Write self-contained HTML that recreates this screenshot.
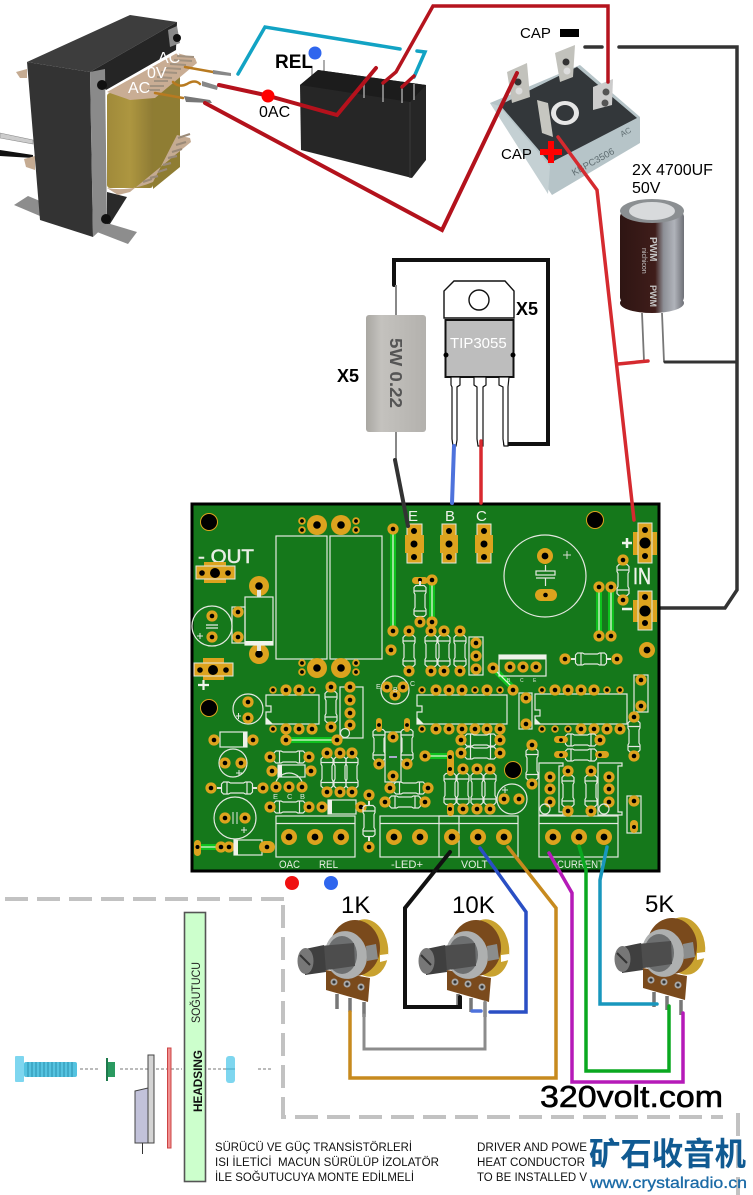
<!DOCTYPE html>
<html><head><meta charset="utf-8"><style>
html,body{margin:0;padding:0;background:#fff}
svg{display:block}
text{font-family:"Liberation Sans","Noto Sans CJK SC",sans-serif}
.w{fill:none;stroke-linejoin:miter;stroke-linecap:round}
.o{fill:none;stroke:#e4e8e0;stroke-width:1.2}
.t{fill:#eef2ea;font-size:15px}
</style></head><body>
<svg xmlns="http://www.w3.org/2000/svg" width="753" height="1195" viewBox="0 0 753 1195">
<defs>
<linearGradient id="gc" x1="0" x2="1" y1="0" y2="0"><stop offset="0" stop-color="#a08a3a"/><stop offset=".5" stop-color="#ad9640"/><stop offset="1" stop-color="#8e7b34"/></linearGradient>
<linearGradient id="gr" x1="0" x2="1" y1="0" y2="0"><stop offset="0" stop-color="#a9a7a2"/><stop offset=".25" stop-color="#c4c2be"/><stop offset="1" stop-color="#b3b1ad"/></linearGradient>
<linearGradient id="gcap" x1="0" x2="1" y1="0" y2="0"><stop offset="0" stop-color="#2e1513"/><stop offset=".55" stop-color="#3f1d1a"/><stop offset=".68" stop-color="#8d8f96"/><stop offset=".85" stop-color="#b0b3ba"/><stop offset="1" stop-color="#6e7076"/></linearGradient>
<g id="p"><circle r="5.6" fill="#dca31e"/><circle r="2.3" fill="#000"/></g>
<g id="s"><circle r="3.8" fill="#dca31e"/><circle r="1.9" fill="#000"/></g>
<g id="m"><circle r="8" fill="#dca31e"/><circle r="3.4" fill="#000"/></g>
<g id="b"><circle r="10" fill="#dca31e"/><circle r="3.8" fill="#000"/></g>
<g id="h"><circle r="8.5" fill="#000" stroke="#dca31e" stroke-width="1"/></g>
<g id="rv"><path class="o" d="M-4-15.5h8l2 2v5l-1 2v13l1 2v5l-2 2h-8l-2-2v-5l1-2v-13l-1-2v-5z"/><path class="o" d="M-6-10H6M-6 10H6"/><path d="M0-20v4M0 16v4" stroke="#e4e8e0" stroke-width="2"/></g>
<g id="rh"><path class="o" d="M-15.5-4v8l2 2h5l2-1h13l2 1h5l2-2v-8l-2-2h-5l-2 1h-13l-2-1h-5z"/><path class="o" d="M-10-6V6M10-6V6"/><path d="M-20 0h4M16 0h4" stroke="#e4e8e0" stroke-width="2"/></g>
<g id="term"><rect x="0" y="0" width="79" height="41" fill="none" stroke="#e4e8e0" stroke-width="1.2"/><path d="M0 7.5H79" stroke="#e4e8e0" stroke-width="1.2"/></g>
<g id="pot">
<ellipse cx="367" cy="948" rx="21" ry="29" fill="#c9a22f" transform="rotate(-10 367 948)"/>
<path d="M380 955l8-1v6l-8 2z" fill="#fff"/>
<ellipse cx="355" cy="948" rx="25" ry="28" fill="#7a4a1c"/>
<path d="M326 970l44 8-2 24-42-12z" fill="#7a4a1c"/>
<ellipse cx="346" cy="955" rx="21" ry="24" fill="#aeb0b0" transform="rotate(-10 346 955)"/>
<ellipse cx="342" cy="955" rx="15" ry="19" fill="#6d6f70"/>
<path d="M366 946l10-2 2 15-11 2z" fill="#8b8d8d"/>
<path d="M320 946l34-3 1 23-35 5z" fill="#4d4d4d"/>
<path d="M305 949l19-4 2 27-21 3z" fill="#3f3f3f"/>
<ellipse cx="305.500" cy="961" rx="8" ry="13" fill="#777"/>
<path d="M300 955l10 10" stroke="#333" stroke-width="2"/>
<circle cx="334" cy="982" r="3.5" fill="#aaa"/><circle cx="334" cy="982" r="1.6" fill="#333"/>
<circle cx="347" cy="984" r="3.500" fill="#aaa"/><circle cx="347" cy="984" r="1.600" fill="#333"/>
<circle cx="361" cy="987" r="3.5" fill="#aaa"/><circle cx="361" cy="987" r="1.6" fill="#333"/>
<path d="M337 994v15M350 998v14M364 1002v15" stroke="#777" stroke-width="3.5"/>
</g>
</defs>

<rect width="753" height="1195" fill="#fff"/>

<!-- transformer -->
<path d="M0 133l33 7v4L0 138z" fill="#ccc" stroke="#888" stroke-width=".6"/>
<path d="M0 150l33 5v3L0 156z" fill="#111"/>
<path d="M16 72l11-3v9H20z" fill="#c5ab92"/>
<path d="M24 159l11-3v14l-9-3z" fill="#c5ab92"/>
<path d="M14 205l14-9 12 5v15z" fill="#8d8d8d"/>
<path d="M107 223l30 9-9 12-31-12z" fill="#8d8d8d"/>
<path d="M107 192l20 5-17 27h-3z" fill="#2a2a2a"/>
<rect x="107" y="93" width="46" height="95" rx="3" fill="url(#gc)"/>
<path d="M153 95l27-18v90l-27 22z" fill="#8f7d33"/>
<path d="M177 135l13 3 1 4-61 50-12 3-11-7q22 4 46-6z" fill="#c5ab92"/>
<path d="M178 138l12-4M176 145l10-3M172 152l10-3M168 158l9-2M163 165l8-2M158 172l9-3M150 178l8-2M143 182l9-3" stroke="#9a8a78" stroke-width="2.200"/>
<path d="M27 62L130 15l47 7-87 50z" fill="#3d3d3d"/>
<path d="M90 72l87-50-1 28-70 40z" fill="#252525"/>
<path d="M107 92l70-39 18 5 2 5-42 35-25 2z" fill="#c9ad94"/>
<path d="M177 56l17 1M174 60l18 1M170 64l16 1M165 68l16 1M161 72l16 1M157 77l15 1M154 81l14 0M150 86l14 0M147 90l13 0" stroke="#a29280" stroke-width="2"/>
<path d="M27 62l63 10 3 165-53-17z" fill="#333"/>
<path d="M90 72l15-3 2 155-14 13z" fill="#8a8a8a"/>
<path d="M168 30l9-4 3 17-10 4z" fill="#8a8a8a"/>
<circle cx="102" cy="85" r="5" fill="#111"/><circle cx="177" cy="38" r="4" fill="#111"/><circle cx="106" cy="219" r="5" fill="#111"/>
<path d="M185 67l28 5M173 82q6 6 14 2q8-5 13 0M155 93l28 5" class="w" stroke="#b87a20" stroke-width="2.500"/>
<path d="M213 70l18 3v3l-18-2z" fill="#888"/><path d="M202 81l16 5-1 4-15-4z" fill="#888"/><path d="M184 96l26 4 2 3-26-1z" fill="#777"/>
<text x="158" y="63" font-size="16" fill="#fff">AC</text>
<text x="147" y="78" font-size="16" fill="#fff">0V</text>
<text x="128" y="93" font-size="16" fill="#fff">AC</text>

<!-- relay -->
<path d="M312 68v16M324 60v26" stroke="#999" stroke-width="1.600"/>
<path d="M300 85l18-15 108 15v75l-14 18-111-28z" fill="#262626"/>
<path d="M300 85l110 17 16-17-108-15z" fill="#1c1c1c"/>
<path d="M410 102v76" stroke="#3a3a3a" stroke-width="1"/>
<path d="M364 80v18M383 82v20M402 85v18M414 84v16" stroke="#999" stroke-width="1.600"/>
<text x="275" y="68" font-size="19" font-weight="bold">REL</text>
<text x="259" y="117" font-size="16">0AC</text>

<!-- bridge -->
<path d="M490 103l90-38 60 52v26l-88 52z" fill="#b6c4c8"/>
<path d="M490 103l9 3 51 60-2 28z" fill="#c4d0d3"/>
<path d="M500 105l77-38 60 51-87 45z" fill="#33373a"/>
<path d="M507 72l20-9 3 34-18 6z" fill="#c2c2bc"/><circle cx="518" cy="82" r="3.500" fill="#333"/><circle cx="519" cy="91" r="3.500" fill="#ddd"/>
<path d="M555 53l20-8-2 32-13 5z" fill="#c2c2bc"/><circle cx="566" cy="62" r="3.500" fill="#333"/><circle cx="567" cy="71" r="3.500" fill="#ddd"/>
<ellipse cx="565" cy="113" rx="14" ry="12" fill="#e6e6e6"/><ellipse cx="565" cy="113" rx="9" ry="8" fill="#33373a"/>
<path d="M593 87l20-8-1 26-19 5z" fill="#ccc"/><circle cx="606" cy="92" r="3.500" fill="#555"/><circle cx="605" cy="103" r="3.500" fill="#555"/>
<path d="M537 100l11 3 5 34-11-4z" fill="#c6c6c0"/>
<text transform="translate(574 176) rotate(-29)" font-size="9.500" fill="#5e6c70">KBPC3506</text>
<text transform="translate(622 137) rotate(-28)" font-size="8" fill="#5e6c70">AC</text>

<!-- capacitor -->
<rect x="620" y="211" width="64" height="92" rx="6" fill="url(#gcap)"/>
<ellipse cx="652" cy="303" rx="32" ry="10" fill="url(#gcap)"/>
<ellipse cx="652" cy="211" rx="32" ry="12" fill="#8b8f92"/>
<ellipse cx="652" cy="211" rx="23" ry="9" fill="#d8dadc"/>
<text transform="translate(650 237) rotate(90)" font-size="10" font-weight="bold" fill="#c6c6c6">PWM</text>
<text transform="translate(642 248) rotate(90)" font-size="7" fill="#c6c6c6">nichicon</text>
<text transform="translate(650 285) rotate(90)" font-size="9" font-weight="bold" fill="#c6c6c6">PWM</text>
<path d="M642 313l2 48M662 313l2 49" stroke="#777" stroke-width="1.800" fill="none"/>

<!-- top wires -->
<path class="w" d="M238 74L265 27 400 49M417 51l8 1-11 25" stroke="#12a3c4" stroke-width="3.500"/>
<path class="w" d="M219 85l46 10 72 20 39-47" stroke="#b5111c" stroke-width="4"/>
<path class="w" d="M205 103l237 127 75-157" stroke="#b3121c" stroke-width="4"/>
<path class="w" d="M383 83l13-11L433 6h175v76" stroke="#b5141e" stroke-width="3.500"/>
<path class="w" d="M402 87l12-11" stroke="#b5111c" stroke-width="3.500"/>
<path class="w" d="M585 47h17" stroke="#333" stroke-width="3.500"/>
<path class="w" d="M619 47h118v543l-12 18h-65" stroke="#333" stroke-width="3.500"/>
<path class="w" d="M665 362h72" stroke="#333" stroke-width="3"/>
<circle cx="268" cy="96" r="6.500" fill="#f00"/>
<circle cx="315" cy="53" r="6.500" fill="#2f66ee"/>
<text x="520" y="38" font-size="15">CAP</text>
<rect x="560" y="29" width="19" height="8" fill="#000"/>
<text x="501" y="159" font-size="15">CAP</text>
<text x="632" y="175" font-size="16">2X 4700UF</text>
<text x="632" y="193" font-size="16">50V</text>

<!-- resistor + transistor -->
<path d="M394 285v-25h154v184h-43" class="w" stroke="#111" stroke-width="4"/>
<path d="M396 285v30M396 432v28" stroke="#888" stroke-width="2"/>
<rect x="366" y="315" width="60" height="117" rx="3" fill="url(#gr)"/>
<text transform="translate(390 338) rotate(90)" font-size="17.500" font-weight="bold" fill="#555" textLength="70" lengthAdjust="spacingAndGlyphs">5W 0.22</text>
<text x="337" y="382" font-size="18" font-weight="bold">X5</text>
<text x="516" y="315" font-size="18" font-weight="bold">X5</text>
<path d="M444 318v-27l10-10h51l9 10v27z" fill="#fff" stroke="#111" stroke-width="1.400"/>
<circle cx="479" cy="300" r="10" fill="#fff" stroke="#111" stroke-width="1.400"/>
<rect x="445.500" y="320" width="68" height="57" fill="#bdbdbd" stroke="#111" stroke-width="2"/>
<circle cx="446" cy="355" r="2.500" fill="#000"/><circle cx="513" cy="355" r="2.500" fill="#000"/>
<text x="450" y="348" font-size="15" fill="#fff">TIP3055</text>
<path d="M451 377v8l1 2v52l1 7h3l1-6v-53l3-2v-8zM474 377v8l3 2v52l1 7h5v-59l3-2v-8zM499 377v8l4 2v52l1 7h4v-59l1-10z" fill="#fff" stroke="#111" stroke-width="1.200"/>

<!-- PCB -->
<rect x="192" y="504" width="467" height="367" fill="#15781b" stroke="#000" stroke-width="3"/>
<use href="#h" x="209" y="522"/><use href="#h" x="595" y="520"/><use href="#h" x="209" y="708"/><use href="#h" x="513" y="770"/>
<rect x="276" y="536" width="51" height="123" class="o"/><rect x="330" y="536" width="52" height="123" class="o"/>
<use href="#s" x="302" y="521"/><use href="#s" x="302" y="530"/><use href="#b" x="317" y="525"/><use href="#b" x="341" y="525"/><use href="#s" x="356" y="521"/><use href="#s" x="356" y="530"/>
<use href="#s" x="302" y="663"/><use href="#s" x="302" y="672"/><use href="#b" x="317" y="668"/><use href="#b" x="341" y="668"/><use href="#s" x="356" y="663"/><use href="#s" x="356" y="672"/>
<!-- green links -->
<path d="M393 529v102M432 580v42M599 587v49M611 587v49M286 740h51M220 847h-23M493 668l20 20M425 756h25" stroke="#0fc21e" stroke-width="6" fill="none"/>
<path d="M393 529v102M432 580v42M599 587v49M611 587v49M286 740h51M220 847h-23M493 668l20 20M425 756h25" stroke="#dff5d5" stroke-width="1.300" fill="none"/>
<use href="#p" x="393" y="529"/><use href="#p" x="393" y="631"/><use href="#p" x="391" y="650"/>
<!-- E B C -->
<path d="M407 524h15v39h-15zM442 524h14v39h-14zM477 524h14v39h-14z" fill="#dca31e" stroke="#e4e8e0" stroke-width="1"/>
<path d="M405 535h19v18h-19zM440 535h18v18h-18zM475 535h18v18h-18z" fill="#dca31e"/>
<g fill="#000"><circle cx="414" cy="531" r="3"/><circle cx="414" cy="544" r="3.500"/><circle cx="414" cy="557" r="3"/><circle cx="449" cy="531" r="3"/><circle cx="449" cy="544" r="3.500"/><circle cx="449" cy="557" r="3"/><circle cx="484" cy="531" r="3"/><circle cx="484" cy="544" r="3.500"/><circle cx="484" cy="557" r="3"/></g>
<text x="408" y="521" class="t">E</text><text x="445" y="521" class="t">B</text><text x="476" y="521" class="t">C</text>
<!-- OUT -->
<text x="198" y="563" font-size="19" fill="#e8ede4" stroke="#e8ede4" stroke-width=".5" textLength="56" lengthAdjust="spacingAndGlyphs">- OUT</text>
<path d="M196 566h8v-4h22v4h9v13h-9v4h-22v-4h-8z" fill="#dca31e"/><rect x="196" y="566" width="39" height="13" fill="none" stroke="#e4e8e0"/>
<g fill="#000"><circle cx="202" cy="573" r="2.800"/><circle cx="215" cy="573" r="5"/><circle cx="228" cy="573" r="2.800"/></g>
<path d="M194 663h9v-5h21v5h9v13h-9v4h-21v-4h-9z" fill="#dca31e"/><rect x="194" y="663" width="39" height="13" fill="none" stroke="#e4e8e0"/>
<g fill="#000"><circle cx="200" cy="670" r="2.800"/><circle cx="213" cy="670" r="5"/><circle cx="226" cy="670" r="2.800"/></g>
<path d="M198 685h11M203.500 680v10" stroke="#f0f4ec" stroke-width="2.200"/>
<use href="#b" x="259" y="586"/><use href="#b" x="259" y="654"/>
<path d="M259 590v7M259 645v6" stroke="#e4e8e0" stroke-width="4"/>
<rect x="245" y="597" width="28" height="48" class="o"/><rect x="245" y="641" width="28" height="4.500" fill="#f0f4ec"/>
<circle cx="212" cy="626" r="20" class="o"/><use href="#p" x="212" y="616"/><use href="#p" x="212" y="637"/>
<path d="M206 625h12M206 628h12" stroke="#e4e8e0" stroke-width="1.200"/><path d="M197 636h6M200 633v6" stroke="#e4e8e0"/>
<rect x="232" y="607" width="13" height="36" class="o"/><use href="#p" x="238" y="612"/><use href="#p" x="238" y="637"/>
<!-- res row -->
<rect x="412" y="577" width="16" height="7" rx="3.500" fill="#dca31e"/><circle cx="420" cy="580" r="2" fill="#000"/>
<use href="#rv" x="420" y="601"/><use href="#p" x="420" y="622"/>
<use href="#rv" x="409" y="651"/><use href="#p" x="409" y="631"/><use href="#p" x="409" y="671"/>
<use href="#rv" x="431" y="651"/><use href="#p" x="431" y="631"/><use href="#p" x="431" y="671"/>
<use href="#rv" x="444" y="651"/><use href="#p" x="444" y="631"/><use href="#p" x="444" y="671"/>
<use href="#rv" x="460" y="651"/><use href="#p" x="460" y="631"/><use href="#p" x="460" y="671"/>
<use href="#p" x="432" y="580"/><use href="#p" x="432" y="622"/>
<rect x="469" y="637" width="14" height="38" class="o"/><use href="#p" x="476" y="643"/><use href="#p" x="476" y="656"/><use href="#p" x="476" y="669"/>
<!-- big cap -->
<circle cx="545" cy="576" r="41" class="o"/><use href="#m" x="545" y="556"/>
<rect x="535" y="589" width="22" height="12" rx="6" fill="#dca31e"/><circle cx="545.500" cy="595" r="2.300" fill="#000"/>
<rect x="536" y="571" width="19" height="4" class="o"/><path d="M536 578h19M545.500 565v6M545.500 578v8" stroke="#e4e8e0" stroke-width="1.200"/>
<path d="M563 555h8M567 551v8" stroke="#d8ddd2" stroke-width="1"/>
<!-- IN -->
<path d="M638 523h14v9h5v23h-5v8h-14v-8h-5v-23h5z" fill="#dca31e"/><rect x="638" y="523" width="14" height="40" fill="none" stroke="#e4e8e0"/>
<path d="M638 591h14v9h5v22h-5v8h-14v-8h-5v-22h5z" fill="#dca31e"/><rect x="638" y="591" width="14" height="39" fill="none" stroke="#e4e8e0"/>
<g fill="#000"><circle cx="645" cy="530" r="3"/><circle cx="645" cy="543" r="5.500"/><circle cx="645" cy="556" r="3"/><circle cx="645" cy="597" r="3"/><circle cx="645" cy="611" r="5.500"/><circle cx="645" cy="623" r="3"/></g>
<path d="M622 543h10M627 538v10M622 609h10" stroke="#f0f4ec" stroke-width="2.500"/>
<text x="633" y="584" font-size="23" fill="#f0f4ec" stroke="#f0f4ec" stroke-width=".5" textLength="18" lengthAdjust="spacingAndGlyphs">IN</text>
<use href="#rv" x="623" y="580"/><use href="#p" x="623" y="560"/><use href="#p" x="623" y="600"/>
<use href="#p" x="599" y="587"/><use href="#p" x="599" y="636"/><use href="#p" x="611" y="587"/><use href="#p" x="611" y="636"/>
<use href="#m" x="647" y="650"/>
<use href="#rh" x="591" y="659"/><use href="#p" x="565" y="659"/><use href="#p" x="617" y="659"/>
<rect x="499" y="655" width="47" height="21" class="o"/><rect x="499" y="655" width="47" height="4.500" fill="#eef2ea"/>
<use href="#p" x="510" y="667"/><use href="#p" x="523" y="667"/><use href="#p" x="536" y="667"/>
<use href="#p" x="493" y="668"/><use href="#s" x="513" y="690"/>
<text x="507" y="682" font-size="5" fill="#e4e8e0">B</text><text x="520" y="682" font-size="5" fill="#e4e8e0">C</text><text x="533" y="682" font-size="5" fill="#e4e8e0">E</text>
<rect x="634" y="675" width="14" height="37" class="o"/><use href="#p" x="641" y="680"/><use href="#p" x="641" y="706"/>
<!-- IC left -->
<path d="M266 695h53v29h-53v-12h5v-6h-5z" class="o"/><path d="M266 717l7 7h-7z" fill="#eef2ea"/>
<use href="#s" x="273" y="690"/><use href="#p" x="286" y="690"/><use href="#p" x="299" y="690"/><use href="#s" x="312" y="690"/>
<use href="#s" x="273" y="729"/><use href="#p" x="286" y="729"/><use href="#p" x="299" y="729"/><use href="#p" x="312" y="729"/>
<circle cx="248" cy="709" r="15" class="o"/><use href="#p" x="248" y="702"/><use href="#p" x="248" y="718"/><path d="M236 716h5M238.500 713v6" stroke="#e4e8e0"/>
<use href="#rv" x="331" y="707"/><use href="#p" x="331" y="687"/><use href="#p" x="331" y="727"/>
<rect x="340" y="687" width="23" height="51" class="o"/><use href="#p" x="350" y="687"/><use href="#p" x="350" y="700"/><use href="#p" x="350" y="713"/><use href="#p" x="350" y="725"/><circle cx="345" cy="733" r="4.500" class="o"/>
<circle cx="395" cy="690" r="14" class="o"/><use href="#p" x="387" y="687"/><use href="#p" x="395" y="695"/><use href="#p" x="403" y="687"/>
<text x="376" y="689" font-size="7" fill="#e4e8e0">E</text><text x="410" y="686" font-size="7" fill="#e4e8e0">C</text><text x="393" y="692" font-size="7" fill="#e4e8e0">B</text>
<rect x="220" y="732" width="27" height="15" class="o"/><rect x="243" y="732" width="4" height="15" fill="#eef2ea"/>
<use href="#p" x="214" y="740"/><use href="#p" x="253" y="740"/><use href="#p" x="286" y="740"/><use href="#p" x="337" y="740"/>
<circle cx="233" cy="763" r="14" class="o"/><use href="#p" x="225" y="763"/><use href="#p" x="241" y="763"/><path d="M236 773h6M239 770v6" stroke="#e4e8e0"/>
<use href="#rh" x="289.500" y="757"/><use href="#p" x="270" y="757"/><use href="#p" x="309" y="757"/>
<rect x="278" y="765" width="27" height="12" class="o"/><rect x="278" y="765" width="4" height="12" fill="#eef2ea"/><use href="#p" x="272" y="771"/><use href="#p" x="311" y="771"/>
<path d="M275 787a14 14 0 0 1 28 0" class="o"/><use href="#p" x="276" y="787"/><use href="#p" x="289" y="787"/><use href="#p" x="302" y="787"/>
<text x="273" y="799" font-size="7.500" fill="#e4e8e0">E</text><text x="287" y="799" font-size="7.500" fill="#e4e8e0">C</text><text x="300" y="799" font-size="7.500" fill="#e4e8e0">B</text>
<use href="#rh" x="237" y="788"/><use href="#p" x="211" y="788"/><use href="#p" x="263" y="788"/>
<use href="#rv" x="327" y="772.500"/><use href="#rv" x="340" y="772.500"/><use href="#rv" x="352" y="772.500"/>
<use href="#p" x="327" y="753"/><use href="#p" x="340" y="753"/><use href="#p" x="352" y="753"/><use href="#p" x="327" y="792"/><use href="#p" x="340" y="792"/><use href="#p" x="352" y="792"/>
<circle cx="235" cy="818" r="21" class="o"/><use href="#p" x="225" y="818"/><use href="#p" x="245" y="818"/><path d="M233 812v12M237 812v12" stroke="#e4e8e0"/><path d="M241 830h6M244 827v6" stroke="#e4e8e0"/>
<use href="#rh" x="289.500" y="807"/><use href="#p" x="270" y="807"/><use href="#p" x="309" y="807"/>
<rect x="328" y="800" width="28" height="14" class="o"/><rect x="328" y="800" width="4" height="14" fill="#eef2ea"/><use href="#p" x="322" y="807"/><use href="#p" x="361" y="807"/>
<use href="#rv" x="369" y="821"/><use href="#p" x="369" y="795"/><use href="#p" x="369" y="847"/>
<!-- bottom left -->
<rect x="194" y="840" width="7" height="16" rx="3.500" fill="#dca31e"/><circle cx="197.500" cy="847" r="2" fill="#000"/>
<use href="#p" x="221" y="847"/><use href="#p" x="229" y="847"/>
<rect x="234" y="840" width="28" height="15" class="o"/><rect x="234" y="840" width="4" height="15" fill="#eef2ea"/>
<rect x="259" y="841" width="16" height="12" rx="6" fill="#dca31e"/><circle cx="267" cy="847" r="2.300" fill="#000"/>
<!-- terminals -->
<use href="#term" x="276" y="816"/><use href="#m" x="289" y="837"/><use href="#m" x="315" y="837"/><use href="#m" x="341" y="837"/>
<use href="#term" x="380" y="816"/><use href="#m" x="394" y="837"/><use href="#m" x="420" y="837"/>
<use href="#term" x="439" y="816"/><use href="#m" x="452" y="837"/><use href="#m" x="478" y="837"/><use href="#m" x="504" y="837"/>
<use href="#term" x="539" y="816"/><use href="#m" x="553" y="837"/><use href="#m" x="579" y="837"/><use href="#m" x="604" y="837"/>
<text x="279" y="868" font-size="11" fill="#e8ede4" textLength="21" lengthAdjust="spacingAndGlyphs">OAC</text>
<text x="319" y="868" font-size="11" fill="#e8ede4" textLength="19" lengthAdjust="spacingAndGlyphs">REL</text>
<text x="391" y="868" font-size="11" fill="#e8ede4" textLength="32" lengthAdjust="spacingAndGlyphs">-LED+</text>
<text x="461" y="868" font-size="11" fill="#e8ede4" textLength="27" lengthAdjust="spacingAndGlyphs">VOLT</text>
<text x="557" y="868" font-size="11" fill="#e8ede4" textLength="47" lengthAdjust="spacingAndGlyphs">CURRENT</text>
<!-- mid -->
<rect x="385" y="732" width="16" height="50" class="o"/><use href="#p" x="393" y="737"/><use href="#p" x="393" y="776"/><rect x="389" y="756" width="8" height="2" fill="#aac"/>
<use href="#rv" x="379" y="745"/><use href="#rv" x="407" y="745"/>
<rect x="376" y="718" width="6" height="14" rx="3" fill="#dca31e"/><rect x="404" y="718" width="6" height="14" rx="3" fill="#dca31e"/><circle cx="379" cy="725" r="1.900" fill="#000"/><circle cx="407" cy="725" r="1.900" fill="#000"/>
<use href="#p" x="379" y="764"/><use href="#p" x="407" y="764"/>
<use href="#p" x="425" y="756"/>
<use href="#rh" x="409.500" y="788"/><use href="#p" x="390" y="788"/><use href="#p" x="428" y="788"/>
<use href="#rh" x="405" y="802"/><use href="#p" x="385" y="802"/><use href="#p" x="425" y="802"/>
<!-- IC 2 -->
<path d="M417 695h90v29h-90v-12h5v-6h-5z" class="o"/><path d="M417 717l7 7h-7z" fill="#eef2ea"/>
<use href="#s" x="422" y="690"/><use href="#p" x="436" y="690"/><use href="#p" x="449" y="690"/><use href="#p" x="462" y="690"/><use href="#s" x="475" y="690"/><use href="#p" x="487" y="690"/><use href="#s" x="500" y="690"/><use href="#p" x="513" y="690"/>
<use href="#s" x="422" y="729"/><use href="#p" x="436" y="729"/><use href="#p" x="449" y="729"/><use href="#p" x="462" y="729"/><use href="#p" x="475" y="729"/><use href="#p" x="487" y="729"/><use href="#p" x="500" y="729"/>
<rect x="519" y="693" width="13" height="36" class="o"/><use href="#p" x="526" y="698"/><use href="#p" x="526" y="724"/>
<!-- IC 3 -->
<path d="M535 694h92v30h-92v-8h5v-6h-5z" class="o"/><path d="M535 718l6 6h-6z" fill="#eef2ea"/>
<use href="#s" x="542" y="690"/><use href="#p" x="555" y="690"/><use href="#p" x="568" y="690"/><use href="#p" x="581" y="690"/><use href="#p" x="594" y="690"/><use href="#s" x="607" y="690"/><use href="#s" x="620" y="690"/>
<use href="#s" x="542" y="729"/><use href="#s" x="555" y="729"/><use href="#s" x="568" y="729"/><use href="#p" x="581" y="729"/><use href="#p" x="594" y="729"/><use href="#p" x="607" y="729"/><use href="#p" x="620" y="729"/>
<use href="#rv" x="634" y="736.500"/><use href="#p" x="634" y="717"/><use href="#p" x="634" y="756"/>
<use href="#rh" x="480.500" y="740"/><use href="#p" x="461" y="740"/><use href="#p" x="500" y="740"/>
<use href="#rh" x="480.500" y="753"/><use href="#p" x="461" y="753"/><use href="#p" x="500" y="753"/>
<use href="#rv" x="532" y="764.500"/><use href="#p" x="532" y="745"/><use href="#p" x="532" y="784"/>
<use href="#rh" x="581" y="740"/><use href="#rh" x="581" y="755"/>
<rect x="554" y="736" width="14" height="7" rx="3.500" fill="#dca31e"/><circle cx="561" cy="740" r="1.900" fill="#000"/><use href="#p" x="600" y="740"/>
<rect x="554" y="751" width="14" height="7" rx="3.500" fill="#dca31e"/><circle cx="561" cy="755" r="1.900" fill="#000"/><rect x="595" y="751" width="14" height="7" rx="3.500" fill="#dca31e"/><circle cx="600" cy="755" r="1.900" fill="#000"/>
<use href="#rv" x="450" y="789"/><use href="#rv" x="463" y="789"/><use href="#rv" x="477" y="789"/><use href="#rv" x="490" y="789"/>
<rect x="447" y="750" width="7" height="26" rx="3.500" fill="#dca31e"/><circle cx="450" cy="757" r="2" fill="#000"/><circle cx="450" cy="769" r="2" fill="#000"/>
<rect x="447" y="803" width="7" height="13" rx="3.500" fill="#dca31e"/><circle cx="450" cy="809" r="2" fill="#000"/>
<use href="#p" x="463" y="769"/><use href="#p" x="477" y="769"/><use href="#p" x="490" y="769"/><use href="#p" x="463" y="809"/><use href="#p" x="477" y="809"/><use href="#p" x="490" y="809"/>
<circle cx="512" cy="799" r="15" class="o"/><use href="#p" x="504" y="799"/><use href="#p" x="519" y="799"/><path d="M502 790h6M505 787v6" stroke="#e4e8e0"/>
<path d="M539 763h24v3h-4v46h4v3h-24z" class="o"/><use href="#p" x="550" y="777"/><use href="#p" x="550" y="789"/><use href="#p" x="550" y="802"/><circle cx="545" cy="809" r="5" class="o"/>
<use href="#rv" x="568" y="791"/><use href="#p" x="568" y="771"/><use href="#p" x="568" y="811"/>
<use href="#rv" x="591" y="791"/><use href="#p" x="591" y="771"/><use href="#p" x="591" y="811"/>
<path d="M598 763h24v3h-4v46h4v3h-24z" class="o"/><use href="#p" x="609" y="777"/><use href="#p" x="609" y="789"/><use href="#p" x="609" y="802"/><circle cx="604" cy="809" r="5" class="o"/>
<rect x="627" y="796" width="14" height="37" class="o"/><use href="#p" x="634" y="801"/><rect x="630" y="820" width="8" height="13" rx="4" fill="#dca31e"/><circle cx="634" cy="827" r="2" fill="#000"/>

<!-- wires to PCB -->
<path class="w" d="M395 460l13 66" stroke="#333" stroke-width="4"/>
<path class="w" d="M454 446l-2 57" stroke="#4e72dc" stroke-width="4"/>
<path class="w" d="M481 441v62" stroke="#d9292f" stroke-width="3.500"/>
<path class="w" d="M558 137l39 53 37 330" stroke="#d52a2f" stroke-width="3.500"/>
<path class="w" d="M618 364l30-3" stroke="#d52a2f" stroke-width="3.500"/>
<path d="M540 152h22M551 141v22" stroke="#f00" stroke-width="6"/>

<!-- pots -->
<use href="#pot"/>
<use href="#pot" transform="translate(121 0)"/>
<use href="#pot" transform="translate(317 -2)"/>
<text x="341" y="913" font-size="24">1K</text><text x="452" y="913" font-size="24">10K</text><text x="645" y="912" font-size="24">5K</text>
<circle cx="292" cy="883" r="7" fill="#f01010"/><circle cx="331" cy="883" r="7" fill="#2f66ee"/>

<!-- pot wires -->
<path class="w" d="M450 852l-45 56v99h55v-10" stroke="#111" stroke-width="4"/>
<path class="w" d="M480 848l46 64v100h-36" stroke="#2a4fc4" stroke-width="3.500"/>
<path class="w" d="M472 1011h9" stroke="#4e72dc" stroke-width="3.500"/>
<path class="w" d="M508 847l48 61v170H350v-66" stroke="#c78a1e" stroke-width="3.500"/>
<path class="w" d="M364 1015v34h121v-47" stroke="#8c8c8c" stroke-width="3"/>
<path class="w" d="M549 853l23 40v189h111v-69" stroke="#b51ab8" stroke-width="3.500"/>
<path class="w" d="M579 846l7 24v201h83v-65" stroke="#0aa820" stroke-width="3.500"/>
<path class="w" d="M607 847l-7 33v124h57" stroke="#1897bd" stroke-width="3.500"/>

<!-- dashed frame -->
<path d="M5 899H285M283 905V1117H723M738 1113V1195" fill="none" stroke="#c2c2c2" stroke-width="4" stroke-dasharray="23 9"/>

<!-- heatsink stack -->
<rect x="184.500" y="912.500" width="21" height="269" fill="#ccffcc" stroke="#555" stroke-width="1.600"/>
<text transform="translate(200 1023) rotate(-90)" font-size="11.500" fill="#222" textLength="61" lengthAdjust="spacingAndGlyphs">SOĞUTUCU</text>
<text transform="translate(202 1112) rotate(-90)" font-size="12" font-weight="bold" fill="#111" textLength="62" lengthAdjust="spacingAndGlyphs">HEADSING</text>
<rect x="15" y="1056" width="9" height="26" rx="1" fill="#7ed6ef"/>
<rect x="24" y="1062" width="53" height="15" rx="2" fill="#55c3e0"/>
<path d="M28 1062v15M32 1062v15M36 1062v15M40 1062v15M44 1062v15M48 1062v15M52 1062v15M56 1062v15M60 1062v15M64 1062v15M68 1062v15M72 1062v15" stroke="#2c8fae" stroke-width="1"/>
<path d="M80 1069h18M120 1069h28M156 1069h26M208 1069h18M258 1069h14" stroke="#777" stroke-width="1" stroke-dasharray="3 2"/>
<rect x="106" y="1058" width="2" height="23" fill="#1e7a4c"/><rect x="108" y="1062" width="7" height="15" fill="#2a9a60"/>
<rect x="148" y="1055" width="6" height="88" fill="#d4d4d4" stroke="#444" stroke-width="1"/>
<path d="M135 1091l13-3v55h-13z" fill="#c2c2da" stroke="#444" stroke-width="1"/><path d="M142.500 1143v11" stroke="#333" stroke-width="1"/>
<rect x="167.500" y="1048" width="3.500" height="100" fill="#f08f8f" stroke="#c44" stroke-width="1"/>
<rect x="226" y="1056" width="9" height="27" rx="3" fill="#7ed6ef"/><path d="M226 1069h9" stroke="#4aa8c4"/>

<g font-size="11.500" fill="#111">
<text x="215" y="1151" textLength="197" lengthAdjust="spacingAndGlyphs">SÜRÜCÜ VE GÜÇ TRANSİSTÖRLERİ</text>
<text x="215" y="1166" textLength="224" lengthAdjust="spacingAndGlyphs" xml:space="preserve">ISI İLETİCİ  MACUN SÜRÜLÜP İZOLATÖR</text>
<text x="215" y="1181" textLength="199" lengthAdjust="spacingAndGlyphs">İLE SOĞUTUCUYA MONTE EDİLMELİ</text>
<text x="477" y="1151" textLength="110" lengthAdjust="spacingAndGlyphs">DRIVER AND POWE</text>
<text x="477" y="1166" textLength="108" lengthAdjust="spacingAndGlyphs">HEAT CONDUCTOR</text>
<text x="477" y="1181" textLength="110" lengthAdjust="spacingAndGlyphs">TO BE INSTALLED V</text>
</g>
<text x="540" y="1107" font-size="31" fill="#000" stroke="#000" stroke-width=".6" textLength="183" lengthAdjust="spacingAndGlyphs">320volt.com</text>
<text x="589" y="1165" font-size="32" font-weight="bold" fill="#105a92" textLength="157" lengthAdjust="spacingAndGlyphs">矿石收音机</text>
<text x="590" y="1188" font-size="16" fill="#1a6aa6" stroke="#1a6aa6" stroke-width=".3" textLength="157" lengthAdjust="spacingAndGlyphs">www.crystalradio.cn</text>
</svg>
</body></html>
